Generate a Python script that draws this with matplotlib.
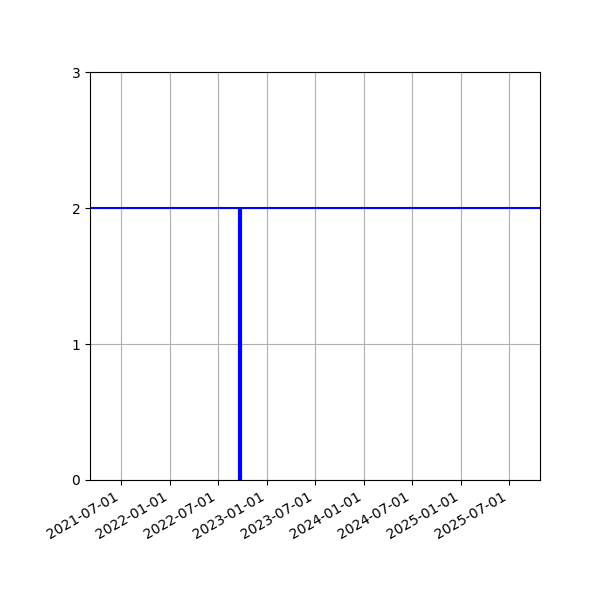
import matplotlib
matplotlib.use("Agg")
import matplotlib.pyplot as plt
import matplotlib.dates as mdates
import numpy as np

# data
x_range = np.array(["2021-03-06", "2025-10-26"], dtype="datetime64[D]")
level = 2
event_dates = np.array(["2022-09-22"], dtype="datetime64[D]")
event_heights = [2]
y_ticks = [0, 1, 2, 3]

fig, ax = plt.subplots(figsize=(6, 6), dpi=100)

ax.axhline(level, color="blue", linewidth=1.5)
ax.vlines(event_dates, 0, event_heights, color="blue", linewidth=3)

ax.set_xlim(x_range[0], x_range[1])
ax.set_ylim(0, 3)
ax.set_yticks(y_ticks)
ax.xaxis.set_major_locator(mdates.MonthLocator(bymonth=[1, 7]))
ax.xaxis.set_major_formatter(mdates.DateFormatter("%Y-%m-%d"))
ax.grid(True, color="#b0b0b0")
ax.set_axisbelow(True)

fig.autofmt_xdate()
plt.subplots_adjust(left=0.15, right=0.9, bottom=0.2, top=0.88)
fig.savefig("out.png")
